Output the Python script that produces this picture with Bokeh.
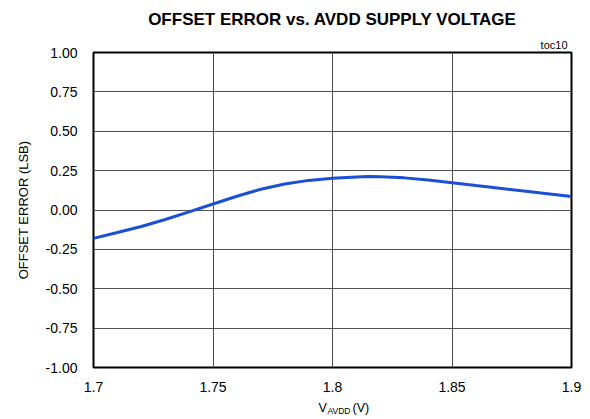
from bokeh.plotting import figure
from bokeh.layouts import column
from bokeh.models import Title, FixedTicker, NumeralTickFormatter, Range1d
from bokeh.embed import file_html
from bokeh.resources import INLINE
from bokeh.core.properties import value

# Data
avdd = [1.700, 1.710, 1.720, 1.730, 1.740, 1.750, 1.760, 1.770, 1.780, 1.790,
        1.800, 1.810, 1.815, 1.820, 1.830, 1.840, 1.850, 1.860, 1.870, 1.880,
        1.890, 1.900]
offset_err = [-0.180, -0.143, -0.105, -0.060, -0.012, 0.038, 0.087, 0.132, 0.165, 0.188,
              0.202, 0.210, 0.212, 0.211, 0.204, 0.190, 0.173, 0.155, 0.138, 0.120,
              0.103, 0.086]
x_ticks = [1.7, 1.75, 1.8, 1.85, 1.9]
y_ticks = [-1.0, -0.75, -0.5, -0.25, 0.0, 0.25, 0.5, 0.75, 1.0]

FONT = "Liberation Sans"
W = 586
BL, BR = 93, 15

xr = Range1d(1.7, 1.9)
p = figure(width=W, height=397, x_range=xr, y_range=(-1.0, 1.0),
           output_backend="svg", toolbar_location=None,
           min_border_left=BL, min_border_right=BR, min_border_top=52, min_border_bottom=30)
p.title.text = "OFFSET ERROR vs. AVDD SUPPLY VOLTAGE"
p.title.align = "center"
p.title.text_font = FONT
p.title.text_font_style = "bold"
p.title.text_font_size = "17px"
p.title.text_color = "black"
p.title.standoff = 13

p.add_layout(Title(text="toc10", align="right", text_font=FONT, text_font_style="normal",
                   text_font_size="11px", text_color="black", offset=4, standoff=3), "above")

p.background_fill_color = "white"
p.border_fill_color = "white"
p.outline_line_color = "black"
p.outline_line_width = 2

p.xaxis.ticker = FixedTicker(ticks=x_ticks)
p.yaxis.ticker = FixedTicker(ticks=y_ticks)
p.xaxis.formatter = NumeralTickFormatter(format="0.0[0]")
p.yaxis.formatter = NumeralTickFormatter(format="0.00")
for ax in (p.xaxis, p.yaxis):
    ax.axis_line_color = None
    ax.major_tick_line_color = None
    ax.minor_tick_line_color = None
    ax.major_tick_in = 0
    ax.major_tick_out = 0
    ax.major_label_text_font = FONT
    ax.major_label_text_font_size = "14px"
    ax.major_label_text_color = "black"
p.yaxis.major_label_standoff = 16
p.xaxis.major_label_standoff = 14
p.yaxis.axis_label = "OFFSET ERROR (LSB)"
p.yaxis.axis_label_text_font = FONT
p.yaxis.axis_label_text_font_style = "normal"
p.yaxis.axis_label_text_font_size = "13px"
p.yaxis.axis_label_text_color = "black"
p.yaxis.axis_label_standoff = 12

p.xgrid.grid_line_color = "#505050"
p.ygrid.grid_line_color = "#505050"
p.xgrid.grid_line_width = 1
p.ygrid.grid_line_width = 1

p.line(avdd, offset_err, line_color="#1a4fd6", line_width=3)

# x-axis label with subscript, drawn in a thin strip below the chart
q = figure(width=W, height=18, x_range=xr, y_range=(18, 0),
           output_backend="svg", toolbar_location=None,
           x_axis_type=None, y_axis_type=None,
           min_border_left=BL, min_border_right=BR, min_border_top=0, min_border_bottom=0)
q.outline_line_color = None
q.xgrid.visible = False
q.ygrid.visible = False
q.background_fill_color = "white"
q.border_fill_color = "white"
label_x = [1.8]
q.text(x=label_x, y=[10], text=["V"], x_offset=-14, text_align="left",
       text_baseline="alphabetic", text_font=value(FONT), text_font_size="12.5px", text_color="black")
q.text(x=label_x, y=[13], text=["AVDD"], x_offset=-5, text_align="left",
       text_baseline="alphabetic", text_font=value(FONT), text_font_size="8.5px", text_color="black")
q.text(x=label_x, y=[10], text=["(V)"], x_offset=20, text_align="left",
       text_baseline="alphabetic", text_font=value(FONT), text_font_size="12.5px", text_color="black")

layout = column(p, q, spacing=0)
open("out.html", "w").write(file_html(layout, INLINE))
